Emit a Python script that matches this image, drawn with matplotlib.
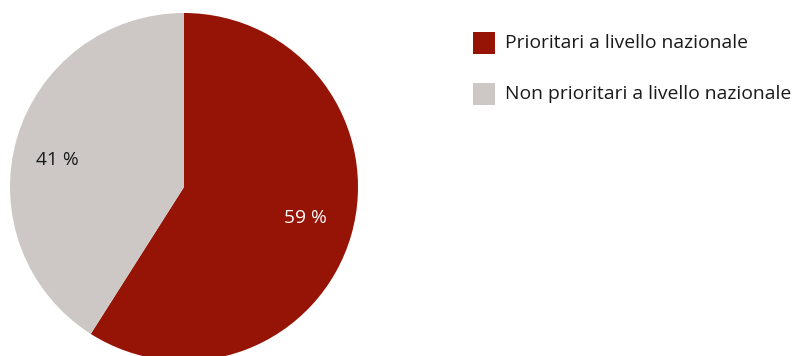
import matplotlib
matplotlib.use("Agg")
import matplotlib.pyplot as plt
from matplotlib.patches import Rectangle

categories = ["Prioritari a livello nazionale", "Non prioritari a livello nazionale"]
shares = [59, 41]
colors = ["#961405", "#CDC8C5"]
label_colors = ["white", "#1a1a1a"]

W, H = 795, 356
plt.rcParams["font.family"] = ["Open Sans", "DejaVu Sans"]
fig = plt.figure(figsize=(W / 100, H / 100), dpi=100)

# pie axes: centre at (184, 187) px from top-left, radius 174 px
cx, cy, r = 184, 187, 174
ax = fig.add_axes([(cx - r) / W, (H - cy - r) / H, 2 * r / W, 2 * r / H])
wedges, texts, autotexts = ax.pie(
    shares, colors=colors, startangle=90, counterclock=False,
    autopct=lambda p: f"{p:.0f} %", pctdistance=0.73,
    wedgeprops=dict(linewidth=0), radius=1.0)
label_pos = [(0.70, -0.18), (-0.725, 0.155)]
for t, c, pos in zip(autotexts, label_colors, label_pos):
    t.set_color(c)
    t.set_fontsize(13.8)
    t.set_position(pos)
ax.set_xlim(-1, 1)
ax.set_ylim(-1, 1)
ax.set_aspect("equal")
ax.axis("off")

# legend entries drawn in figure pixels
for i, (name, col) in enumerate(zip(categories, colors)):
    top = 32 + i * 51
    fig.add_artist(Rectangle((473 / W, (H - top - 22) / H), 22 / W, 22 / H,
                             transform=fig.transFigure, color=col, lw=0))
    fig.text(505 / W, (H - top - 11) / H, name, fontsize=13.9,
             va="center", ha="left", color="#1a1a1a")

fig.savefig("out.png", dpi=100)
